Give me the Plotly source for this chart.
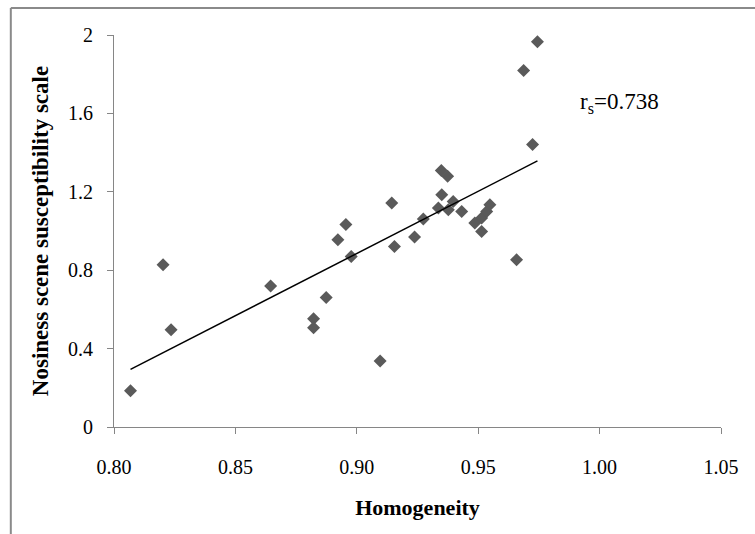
import numpy as np
import plotly.graph_objects as go

homogeneity = [0.8068, 0.8202, 0.8235, 0.8645, 0.8822, 0.8822, 0.8874, 0.8922,
               0.8955, 0.8977, 0.9096, 0.9144, 0.9155, 0.9238, 0.9274, 0.9348,
               0.9374, 0.9350, 0.9397, 0.9336, 0.9377, 0.9432, 0.9486, 0.9514,
               0.9514, 0.9535, 0.9548, 0.9658, 0.9687, 0.9724, 0.9744]
susceptibility = [0.185, 0.828, 0.496, 0.720, 0.552, 0.506, 0.661, 0.955,
                  1.033, 0.870, 0.337, 1.143, 0.921, 0.969, 1.061, 1.309,
                  1.279, 1.185, 1.151, 1.117, 1.109, 1.100, 1.041, 0.998,
                  1.066, 1.100, 1.134, 0.853, 1.819, 1.441, 1.965]
x_ticks = [0.80, 0.85, 0.90, 0.95, 1.00, 1.05]
y_ticks = [0, 0.4, 0.8, 1.2, 1.6, 2]
rs_label = "r<sub>s</sub>=0.738"

x = np.array(homogeneity)
y = np.array(susceptibility)
slope, intercept = np.polyfit(x, y, 1)
xl = np.array([x.min(), x.max()])
yl = slope * xl + intercept

font = "Liberation Serif"
fig = go.Figure()
fig.add_trace(go.Scatter(x=x, y=y, mode="markers",
                         marker=dict(symbol="diamond", size=10, color="#5a5a5a",
                                     line=dict(width=0)),
                         showlegend=False, hoverinfo="skip"))
fig.add_trace(go.Scatter(x=xl, y=yl, mode="lines",
                         line=dict(color="black", width=1.5),
                         showlegend=False, hoverinfo="skip"))

fig.add_annotation(x=0.991, y=1.655, xref="x", yref="y", text=rs_label,
                   showarrow=False, xanchor="left", yanchor="middle",
                   font=dict(family=font, size=23, color="black"))

# outer chart border (left and top edges visible)
border = dict(color="#8a8a8a", width=2)
fig.add_shape(type="line", xref="paper", yref="paper",
              x0=-0.17, x1=-0.17, y0=-0.3, y1=1.069, line=border)
fig.add_shape(type="line", xref="paper", yref="paper",
              x0=-0.17, x1=1.2, y0=1.069, y1=1.069, line=border)

fig.update_layout(
    width=755, height=534,
    margin=dict(l=113.5, r=33.5, t=35, b=107),
    paper_bgcolor="white", plot_bgcolor="white",
    font=dict(family=font, size=20, color="black"),
    xaxis=dict(range=[0.80, 1.05], tickvals=x_ticks, ticktext=[f"{v:.2f}" for v in x_ticks],
               showgrid=False, zeroline=False, showline=True, linecolor="#868686",
               linewidth=1, ticks="outside", ticklen=6, tickcolor="#868686",
               ticklabelstandoff=16,
               tickfont=dict(family=font, size=20, color="black"),
               title=dict(text="<b>Homogeneity</b>", font=dict(family=font, size=22),
                          standoff=22)),
    yaxis=dict(range=[0, 2], tickvals=y_ticks, ticktext=[f"{v:g}" for v in y_ticks],
               showgrid=False, zeroline=False, showline=True, linecolor="#868686",
               linewidth=1, ticks="outside", ticklen=6, tickcolor="#868686",
               ticklabelstandoff=10,
               tickfont=dict(family=font, size=20, color="black"),
               title=dict(text="<b>Nosiness scene susceptibility scale</b>",
                          font=dict(family=font, size=23), standoff=12)),
)
fig.write_html("out.html", config={"displayModeBar": False},
               post_script="document.body.style.margin='0';document.body.style.padding='0';")
